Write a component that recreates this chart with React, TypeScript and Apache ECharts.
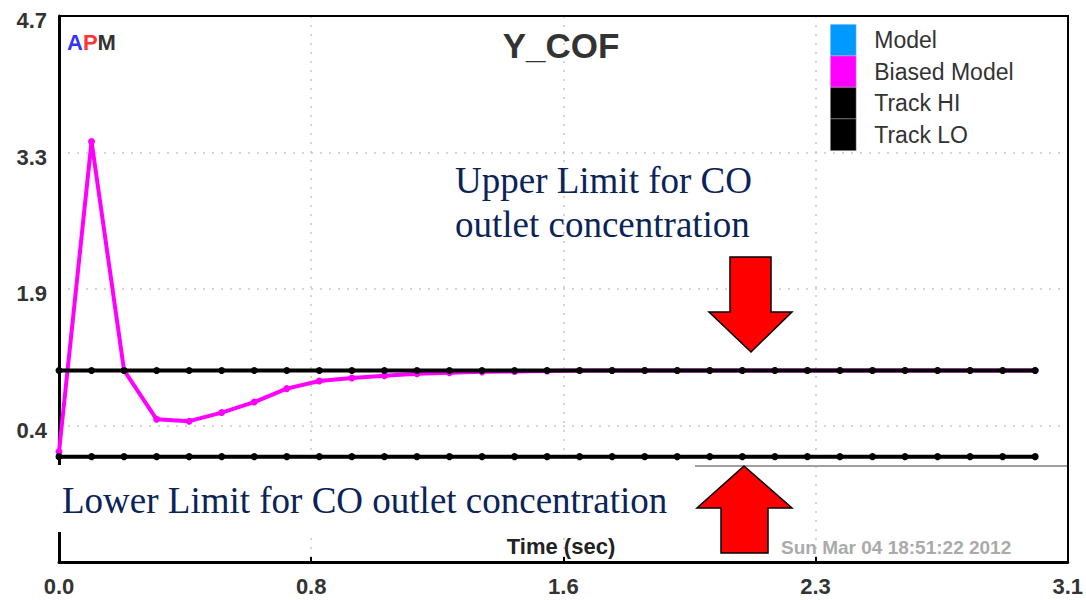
import React, { useEffect, useRef } from "react";
import * as echarts from "echarts";

// Time grid of the simulation (sec)
const timeSec = [
  0.0, 0.1, 0.2, 0.3, 0.4, 0.5, 0.6, 0.7, 0.8, 0.9, 1.0, 1.1, 1.2, 1.3, 1.4, 1.5,
  1.6, 1.7, 1.8, 1.9, 2.0, 2.1, 2.2, 2.3, 2.4, 2.5, 2.6, 2.7, 2.8, 2.9, 3.0,
];

// Y_COF traces
const modelValues: number[] = [];
const biasedModelValues = [
  0.15, 3.39, 1.0, 0.49, 0.47, 0.56, 0.67, 0.81, 0.89, 0.92, 0.945, 0.965, 0.975, 0.985, 0.99, 0.995,
  1.0, 1.0, 1.0, 1.0, 1.0, 1.0, 1.0, 1.0, 1.0, 1.0, 1.0, 1.0, 1.0, 1.0, 1.0,
];
const trackHiValues = [
  1.0, 1.0, 1.0, 1.0, 1.0, 1.0, 1.0, 1.0, 1.0, 1.0, 1.0, 1.0, 1.0, 1.0, 1.0, 1.0,
  1.0, 1.0, 1.0, 1.0, 1.0, 1.0, 1.0, 1.0, 1.0, 1.0, 1.0, 1.0, 1.0, 1.0, 1.0,
];
const trackLoValues = [
  0.1, 0.1, 0.1, 0.1, 0.1, 0.1, 0.1, 0.1, 0.1, 0.1, 0.1, 0.1, 0.1, 0.1, 0.1, 0.1,
  0.1, 0.1, 0.1, 0.1, 0.1, 0.1, 0.1, 0.1, 0.1, 0.1, 0.1, 0.1, 0.1, 0.1, 0.1,
];
const zeroLevel = 0;

// Axis ticks
const xMin = 0;
const xMax = 3.1;
const xTicks = [0, 0.775, 1.55, 2.325, 3.1];
const xTickLabels = ["0.0", "0.8", "1.6", "2.3", "3.1"];
const yMin = -1.0;
const yMax = 4.7;
const yTicks = [0.425, 1.85, 3.275, 4.7];
const yTickLabels = ["0.4", "1.9", "3.3", "4.7"];

const seriesNames = ["Model", "Biased Model", "Track HI", "Track LO"];
const seriesColors = ["#0099ff", "#ff00ff", "#000000", "#000000"];

const SANS = "'Liberation Sans', Arial, sans-serif";
const SERIF = "'Liberation Serif', 'Times New Roman', serif";

// Plot frame (pixels)
const PLOT_LEFT = 59;
const PLOT_TOP = 16;
const PLOT_RIGHT = 1068;
const PLOT_BOTTOM = 562;

const pair = (vals: number[]) => vals.map((v, i) => [timeSec[i], v]);

const labelFor = (ticks: number[], labels: string[]) => (v: number) => {
  let best = 0;
  ticks.forEach((t, i) => {
    if (Math.abs(t - v) < Math.abs(ticks[best] - v)) best = i;
  });
  return labels[best];
};

export default function App() {
  const ref = useRef<HTMLDivElement>(null);

  useEffect(() => {
    if (!ref.current) return;
    const chart = echarts.init(ref.current, undefined, { renderer: "svg" });

    const dotted = { type: [2, 7] as number[], color: "#c8c8c8", width: 1.5 };

    const lineSeries = (idx: number, values: number[], width: number, size: number) => ({
      name: seriesNames[idx],
      type: "line",
      data: pair(values),
      symbol: "circle",
      symbolSize: size,
      showSymbol: true,
      color: seriesColors[idx],
      itemStyle: { color: seriesColors[idx] },
      lineStyle: { color: seriesColors[idx], width },
      emphasis: { disabled: true },
      z: 2 + idx,
    });

    const trackLo: any = lineSeries(3, trackLoValues, 4, 7);
    trackLo.markLine = {
      silent: true,
      symbol: ["none", "none"],
      label: { show: false },
      lineStyle: { color: "#a0a0a0", width: 2, type: "solid" },
      data: [{ yAxis: zeroLevel }],
      z: 1,
    };

    const yLabel = labelFor(yTicks, yTickLabels);

    chart.setOption({
      animation: false,
      backgroundColor: "#ffffff",
      grid: {
        left: PLOT_LEFT,
        right: 1086 - PLOT_RIGHT,
        top: PLOT_TOP,
        bottom: 600 - PLOT_BOTTOM,
        show: false,
      },
      legend: {
        orient: "vertical",
        left: 825,
        top: 19,
        itemWidth: 26,
        itemHeight: 32,
        itemGap: -1,
        icon: "rect",
        selectedMode: false,
        data: seriesNames.map((n, i) => ({
          name: n,
          itemStyle: { color: seriesColors[i], borderColor: "#ddd", borderWidth: 0.5 },
        })),
        textStyle: {
          fontSize: 23,
          color: "#333",
          fontFamily: SANS,
          padding: [0, 0, 0, 13],
        },
      },
      xAxis: {
        type: "value",
        min: xMin,
        max: xMax,
        axisLine: { show: true, onZero: false, lineStyle: { color: "#000", width: 3 } },
        axisTick: {
          show: true,
          inside: true,
          length: 5,
          customValues: xTicks,
          lineStyle: { color: "#000", width: 2 },
        },
        axisLabel: {
          customValues: xTicks,
          formatter: labelFor(xTicks, xTickLabels),
          fontSize: 22,
          fontWeight: "bold",
          color: "#333",
          fontFamily: SANS,
          margin: 13,
          showMinLabel: true,
          showMaxLabel: true,
        },
        splitLine: { show: true, lineStyle: dotted },
      },
      yAxis: {
        type: "value",
        min: yMin,
        max: yMax,
        axisLine: { show: true, onZero: false, lineStyle: { color: "#000", width: 3 } },
        axisTick: { show: false, customValues: yTicks },
        axisLabel: {
          customValues: yTicks,
          formatter: (v: number) => `{v|${yLabel(v)}}`,
          margin: 12,
          showMinLabel: true,
          showMaxLabel: true,
          rich: {
            v: {
              fontSize: 22,
              fontWeight: "bold",
              color: "#333",
              fontFamily: SANS,
              padding: [9, 0, 0, 0],
            },
          },
        },
        splitLine: { show: true, lineStyle: dotted },
      },
      series: [
        lineSeries(0, modelValues, 4, 7),
        lineSeries(1, biasedModelValues, 4, 7),
        lineSeries(2, trackHiValues, 4, 7),
        trackLo,
      ],
      graphic: [
        // top and right edges of the plot frame
        {
          type: "polyline",
          z: 101,
          shape: {
            points: [
              [PLOT_LEFT, PLOT_TOP],
              [PLOT_RIGHT, PLOT_TOP],
              [PLOT_RIGHT, PLOT_BOTTOM],
            ],
          },
          style: { stroke: "#000", lineWidth: 2, fill: null },
        },
        {
          type: "text",
          x: 67,
          y: 42,
          z: 100,
          style: {
            text: "{a|A}{p|P}{m|M}",
            verticalAlign: "middle",
            rich: {
              a: { fill: "#3434ff", fontSize: 22, fontWeight: "bold", fontFamily: SANS },
              p: { fill: "#ff3434", fontSize: 22, fontWeight: "bold", fontFamily: SANS },
              m: { fill: "#333333", fontSize: 22, fontWeight: "bold", fontFamily: SANS },
            },
          },
        },
        {
          type: "text",
          x: 561,
          y: 45,
          z: 100,
          style: {
            text: "Y_COF",
            align: "center",
            verticalAlign: "middle",
            fill: "#333",
            fontSize: 35,
            fontWeight: "bold",
            fontFamily: SANS,
          },
        },
        {
          type: "text",
          x: 561,
          y: 546,
          z: 100,
          style: {
            text: "Time (sec)",
            align: "center",
            verticalAlign: "middle",
            fill: "#222",
            fontSize: 22,
            fontWeight: "bold",
            fontFamily: SANS,
          },
        },
        {
          type: "text",
          x: 781,
          y: 547,
          z: 100,
          style: {
            text: "Sun Mar 04 18:51:22 2012",
            align: "left",
            verticalAlign: "middle",
            fill: "#aaaaaa",
            fontSize: 19,
            fontWeight: "bold",
            fontFamily: SANS,
          },
        },
        {
          type: "text",
          x: 455,
          y: 180,
          z: 100,
          style: {
            text: "Upper Limit for CO",
            align: "left",
            verticalAlign: "middle",
            fill: "#0b2458",
            fontSize: 37,
            fontFamily: SERIF,
          },
        },
        {
          type: "text",
          x: 455,
          y: 224,
          z: 100,
          style: {
            text: "outlet concentration",
            align: "left",
            verticalAlign: "middle",
            fill: "#0b2458",
            fontSize: 37,
            fontFamily: SERIF,
          },
        },
        {
          type: "rect",
          z: 99,
          shape: { x: 45, y: 465, width: 650, height: 67 },
          style: { fill: "#ffffff" },
        },
        {
          type: "text",
          x: 62,
          y: 500,
          z: 100,
          style: {
            text: "Lower Limit for CO outlet concentration",
            align: "left",
            verticalAlign: "middle",
            fill: "#0b2458",
            fontSize: 37,
            fontFamily: SERIF,
          },
        },
        {
          type: "polygon",
          z: 100,
          shape: {
            points: [
              [730, 257],
              [771, 257],
              [771, 312],
              [792, 312],
              [751, 352],
              [709, 312],
              [730, 312],
            ],
          },
          style: { fill: "#ff0000", stroke: "#000", lineWidth: 1.5 },
        },
        {
          type: "polygon",
          z: 100,
          shape: {
            points: [
              [744, 466],
              [792, 508],
              [768, 508],
              [768, 553],
              [721, 553],
              [721, 508],
              [697, 508],
            ],
          },
          style: { fill: "#ff0000", stroke: "#000", lineWidth: 1.5 },
        },
      ],
    });

    return () => chart.dispose();
  }, []);

  return (
    <div
      ref={ref}
      style={{ position: "fixed", left: 0, top: 0, width: 1086, height: 600, background: "#fff" }}
    />
  );
}
